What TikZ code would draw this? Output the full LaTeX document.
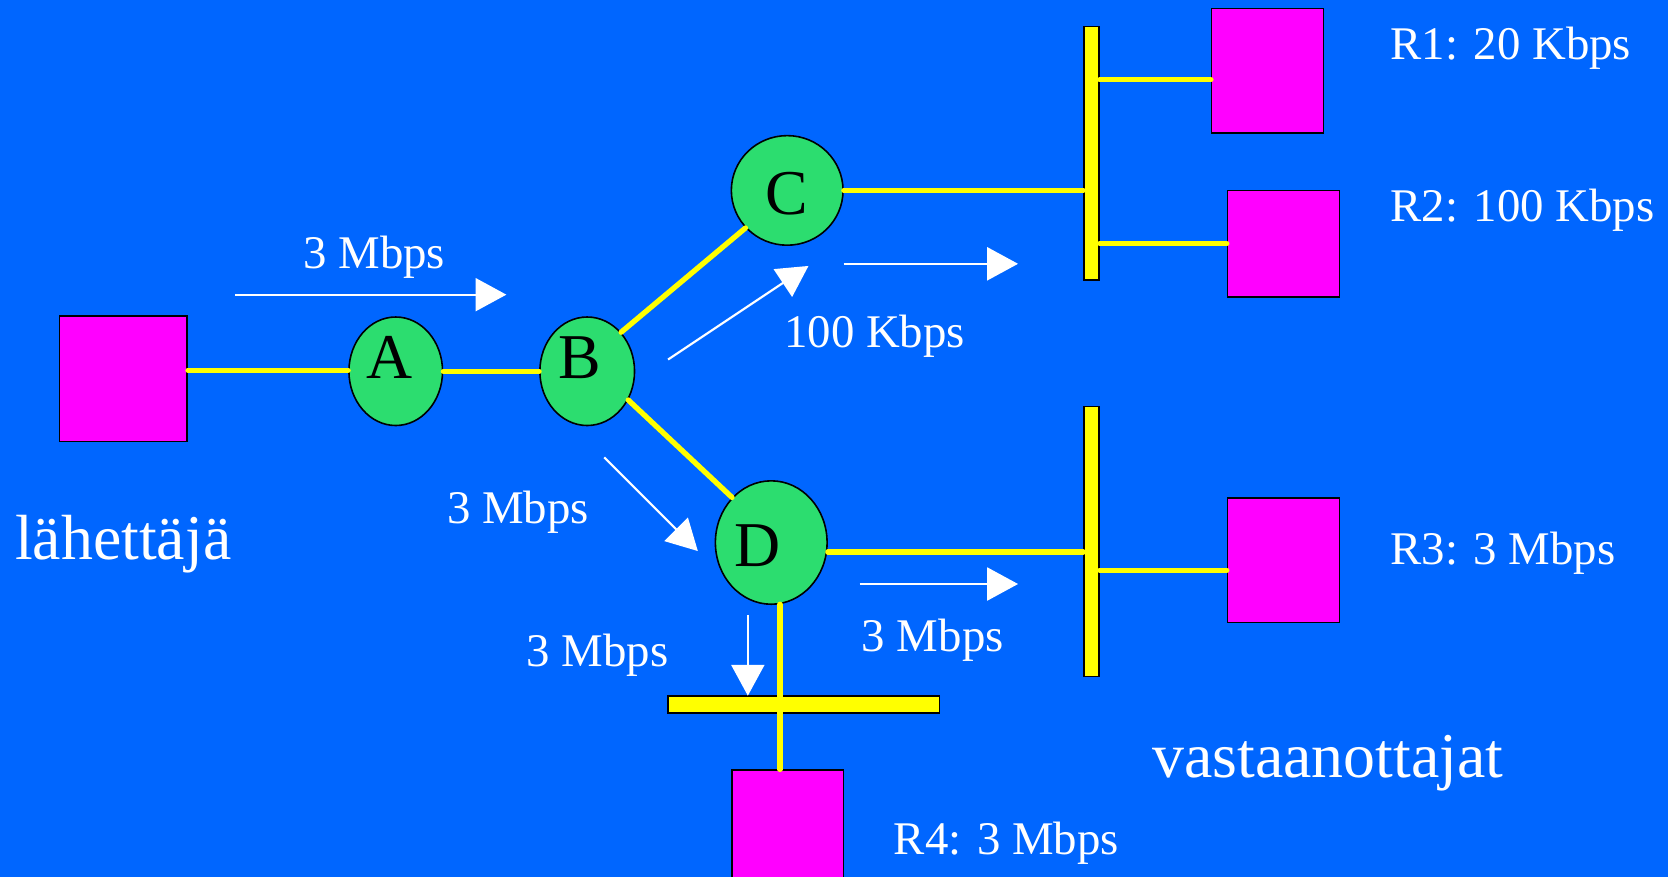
\documentclass[tikz,border=0pt]{standalone}
\usepackage{fontspec}
\setmainfont{Liberation Serif}
\usetikzlibrary{arrows.meta,shapes.geometric}
\definecolor{bg}{RGB}{0,102,255}
\definecolor{nodegreen}{RGB}{44,221,111}
\definecolor{hostmag}{RGB}{255,0,255}
\definecolor{busyel}{RGB}{255,255,0}
\tikzset{
  host/.style={draw=black, line width=1.5pt, fill=hostmag, rectangle, inner sep=0pt},
  router/.style={draw=black, line width=1.5pt, fill=nodegreen, ellipse, inner sep=0pt},
  bus/.style={draw=black, line width=1.5pt, fill=busyel, rectangle, inner sep=0pt},
  link/.style={draw=busyel, line width=5pt, line cap=round},
  flow/.style={draw=white, line width=2pt, -{Triangle[length=29pt,width=31pt]}},
  lbl/.style={text=white, anchor=base west, inner sep=0pt, font=\fontsize{44}{50}\selectfont},
  biglbl/.style={text=white, anchor=base west, inner sep=0pt, font=\fontsize{60}{66}\selectfont},
  letter/.style={text=black, anchor=base, inner sep=0pt, font=\fontsize{60}{66}\selectfont}
}
\begin{document}
\begin{tikzpicture}[x=1pt,y=-1pt]
\useasboundingbox (0,0) rectangle (1568,824);
\clip (0,0) rectangle (1568,824);
\fill[bg] (0,0) rectangle (1568,824);

% hosts
\node[host, minimum width=120pt, minimum height=118pt] (snd) at (116,356) {};
\node[host, minimum width=105pt, minimum height=117pt] (R1) at (1191.5,66.5) {};
\node[host, minimum width=105pt, minimum height=100pt] (R2) at (1206.5,229) {};
\node[host, minimum width=105pt, minimum height=117pt] (R3) at (1206.5,526.5) {};
\node[host, minimum width=105pt, minimum height=117pt] (R4) at (740.5,782.5) {};

% routers
\node[router, minimum width=88pt, minimum height=102pt] (A) at (372,349) {};
\node[router, minimum width=89pt, minimum height=102pt] (B) at (552,349) {};
\node[router, minimum width=105pt, minimum height=103pt] (C) at (740,179) {};
\node[router, minimum width=105pt, minimum height=116pt] (D) at (725,510) {};
\node[letter] (lA) at (366,356) {A};
\node[letter] (lB) at (545,356) {B};
\node[letter] (lC) at (740,202) {C};
\node[letter] (lD) at (712,533) {D};

% buses
\node[bus, minimum width=14pt, minimum height=238pt] (bus1) at (1026,144) {};
\node[bus, minimum width=14pt, minimum height=254pt] (bus2) at (1026,509) {};
\node[bus, minimum width=255pt, minimum height=16pt] (bus3) at (755.5,662) {};

% tap coordinates
\coordinate (t1) at (0,75);
\coordinate (t2) at (0,229);
\coordinate (t3) at (0,536);
\coordinate (tD) at (0,519);
\coordinate (tS) at (0,348);

% links
\draw[link] (snd.east |- tS) -- (A.west |- tS);
\draw[link] (A.east) -- (B.west);
\draw[link] (B.49) -- (C.222);
\draw[link] (B.-35) -- (D.131);
\draw[link] (C.east) -- (C.east -| bus1.west);
\draw[link] (D.east |- tD) -- (bus2.west |- tD);
\draw[link] (D.-82) -- (D.-82 |- R4.north);
\draw[link] (bus1.east |- t1) -- (R1.west |- t1);
\draw[link] (bus1.east |- t2) -- (R2.west |- t2);
\draw[link] (bus2.east |- t3) -- (R3.west |- t3);

% flow arrows
\coordinate (f1a) at (221,277); \coordinate (f1b) at (476,277);
\coordinate (f2a) at (628,338); \coordinate (f2b) at (760,250);
\coordinate (f3a) at (793,248); \coordinate (f3b) at (957,248);
\coordinate (f4a) at (568,430); \coordinate (f4b) at (656,518);
\coordinate (f5a) at (703,578); \coordinate (f5b) at (703,654);
\coordinate (f6a) at (808,549); \coordinate (f6b) at (957,549);
\draw[flow] (f1a) -- (f1b);
\draw[flow] (f2a) -- (f2b);
\draw[flow] (f3a) -- (f3b);
\draw[flow] (f4a) -- (f4b);
\draw[flow] (f5a) -- (f5b);
\draw[flow] (f6a) -- (f6b);

% labels
\node[lbl] (r1) at (1307,56) {R1: 20 Kbps};
\node[lbl] (r2) at (1307,208) {R2: 100 Kbps};
\node[lbl] (r3) at (1307,531) {R3: 3 Mbps};
\node[lbl] (r4) at (840,803) {R4: 3 Mbps};
\node[lbl] (m1) at (285,252) {3 Mbps};
\node[lbl] (k1) at (737,327) {100 Kbps};
\node[lbl] (m2) at (420,492) {3 Mbps};
\node[lbl] (m3) at (495,627) {3 Mbps};
\node[lbl] (m4) at (810,612) {3 Mbps};
\node[biglbl] (sender) at (14,526) {lähettäjä};
\node[biglbl] (recv) at (1083,731) {vastaanottajat};
\end{tikzpicture}
\end{document}
